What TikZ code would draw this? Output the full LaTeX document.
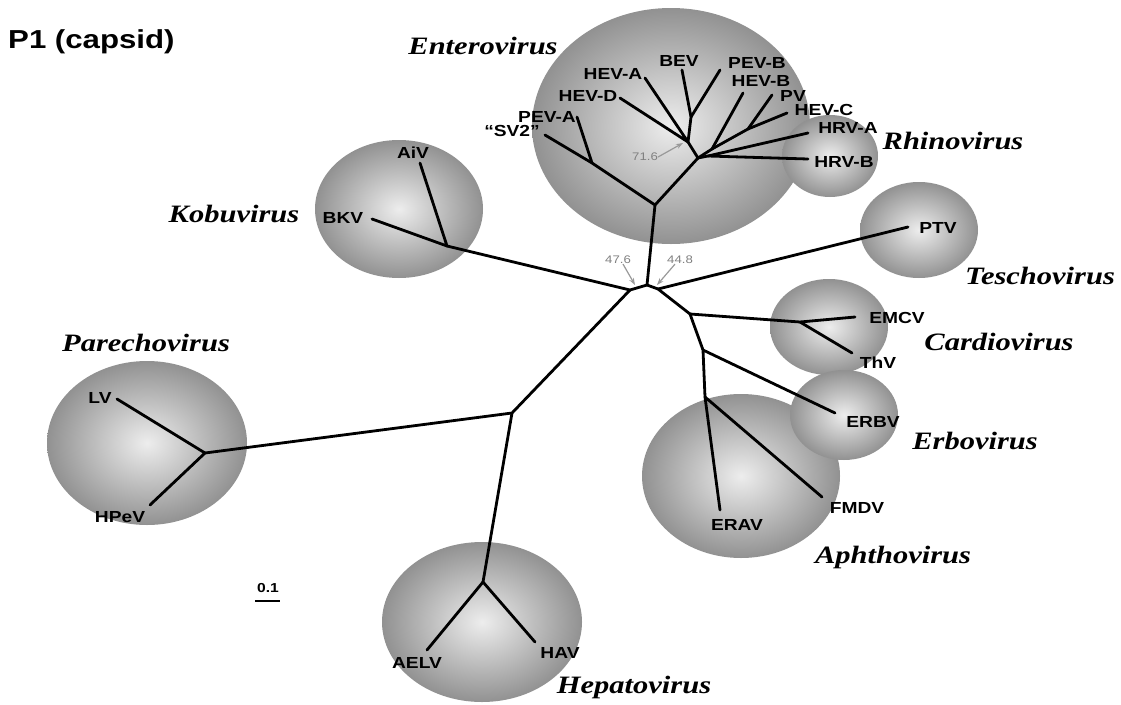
\documentclass[tikz,border=0pt]{standalone}
\usepackage{fontspec}
\usetikzlibrary{arrows.meta}
\newfontfamily\sanslab[FakeStretch=1.2]{Liberation Sans}
\newfontfamily\genuslab[FakeStretch=1.22]{Liberation Serif}
\definecolor{capin}{gray}{0.93}
\definecolor{capout}{gray}{0.57}
\begin{document}
\begin{tikzpicture}[x=1pt,y=-1pt,
    branch/.style={line width=2.8pt,line cap=round,line join=round},
    clade/.style={inner color=capin,outer color=capout},
    leaf/.style={font=\sanslab\bfseries\fontsize{16}{17}\selectfont,inner sep=0pt},
    genus/.style={font=\genuslab\bfseries\itshape\fontsize{25}{27}\selectfont,inner sep=0pt},
    boot/.style={font=\sanslab\fontsize{11}{12}\selectfont,text=gray,inner sep=0pt},
    bootarrow/.style={gray!80,line width=1.2pt,-{Stealth[length=7pt,width=5pt]}}]
    \useasboundingbox (0,0) rectangle (1121,704);

    % clades
    \shade[clade] (671,126) ellipse [x radius=139,y radius=118];
    \shade[clade] (830,156) ellipse [x radius=48,y radius=41];
    \shade[clade] (399,209) ellipse [x radius=84,y radius=69];
    \shade[clade] (919,230) ellipse [x radius=59,y radius=48];
    \shade[clade] (829,327) ellipse [x radius=59,y radius=48];
    \shade[clade] (741,476) ellipse [x radius=99,y radius=82];
    \shade[clade] (844,415) ellipse [x radius=54,y radius=45];
    \shade[clade] (147,443) ellipse [x radius=100,y radius=82];
    \shade[clade] (482,622) ellipse [x radius=100,y radius=80];

    \coordinate (L) at (630,290);
    \coordinate (C) at (647,285);
    \coordinate (D) at (658,289);
    \coordinate (E) at (690,314);
    \coordinate (F) at (703,350);
    \coordinate (K) at (447,246);
    \coordinate (P) at (512,413);
    \coordinate (Pa) at (205,453);
    \coordinate (H) at (483,582);
    \coordinate (Cj) at (800,322);
    \coordinate (Aj) at (705,397);
    \coordinate (N1) at (655,205);
    \coordinate (N2) at (592,163);
    \coordinate (N3) at (698,158);
    \coordinate (N4) at (688,142);
    \coordinate (N5) at (691,117);
    \coordinate (N6) at (712,149);
    \coordinate (N7) at (748,129);
    \coordinate (R) at (708,156);

    \coordinate (tAiV) at (420,163);
    \coordinate (tBKV) at (372,219);
    \coordinate (tLV) at (117,399);
    \coordinate (tHPeV) at (150,505);
    \coordinate (tAELV) at (427,650);
    \coordinate (tHAV) at (535,642);
    \coordinate (tPTV) at (908,227);
    \coordinate (tEMCV) at (855,317);
    \coordinate (tThV) at (852,353);
    \coordinate (tERBV) at (835,413);
    \coordinate (tERAV) at (720,510);
    \coordinate (tFMDV) at (822,497);
    \coordinate (tSV2) at (545,135);
    \coordinate (tPEVA) at (577,117);
    \coordinate (tHEVD) at (620,98);
    \coordinate (tHEVA) at (645,78);
    \coordinate (tBEV) at (682,70);
    \coordinate (tPEVB) at (720,70);
    \coordinate (tHEVB) at (743,93);
    \coordinate (tPV) at (772,95);
    \coordinate (tHEVC) at (787,113);
    \coordinate (tHRVA) at (808,133);
    \coordinate (tHRVB) at (808,159);

    \draw[branch] (Pa) -- (P) -- (L) -- (K);
    \draw[branch] (tLV) -- (Pa) -- (tHPeV);
    \draw[branch] (P) -- (H);
    \draw[branch] (tAELV) -- (H) -- (tHAV);
    \draw[branch] (tAiV) -- (K) -- (tBKV);
    \draw[branch] (L) -- (C) -- (D) -- (E) -- (F) -- (Aj);
    \draw[branch] (D) -- (tPTV);
    \draw[branch] (E) -- (Cj) -- (tEMCV);
    \draw[branch] (Cj) -- (tThV);
    \draw[branch] (F) -- (tERBV);
    \draw[branch] (tERAV) -- (Aj) -- (tFMDV);
    \draw[branch] (C) -- (N1) -- (N2) -- (tSV2);
    \draw[branch] (N2) -- (tPEVA);
    \draw[branch] (N1) -- (N3) -- (N4) -- (N5) -- (tBEV);
    \draw[branch] (N5) -- (tPEVB);
    \draw[branch] (tHEVD) -- (N4) -- (tHEVA);
    \draw[branch] (N3) -- (N6) -- (tHEVB);
    \draw[branch] (N6) -- (N7) -- (tPV);
    \draw[branch] (N7) -- (tHEVC);
    \draw[branch] (N3) -- (R) -- (tHRVA);
    \draw[branch] (R) -- (tHRVB);

    \node[leaf] (lAiV) at (413,153) {AiV};
    \node[leaf] (lBKV) at (343,218) {BKV};
    \node[leaf] (lLV) at (100,398) {LV};
    \node[leaf] (lHPeV) at (120,517) {HPeV};
    \node[leaf] (lAELV) at (417,663) {AELV};
    \node[leaf] (lHAV) at (560,653) {HAV};
    \node[leaf] (lPTV) at (938,228) {PTV};
    \node[leaf] (lEMCV) at (897,318) {EMCV};
    \node[leaf] (lThV) at (878,363) {ThV};
    \node[leaf] (lERBV) at (873,422) {ERBV};
    \node[leaf] (lERAV) at (737,525) {ERAV};
    \node[leaf] (lFMDV) at (857,508) {FMDV};
    \node[leaf] (lSV2) at (512,131) {“SV2”};
    \node[leaf] (lPEVA) at (547,117) {PEV-A};
    \node[leaf] (lHEVD) at (588,96) {HEV-D};
    \node[leaf] (lHEVA) at (613,74) {HEV-A};
    \node[leaf] (lBEV) at (679,61) {BEV};
    \node[leaf] (lPEVB) at (757,63) {PEV-B};
    \node[leaf] (lHEVB) at (761,81) {HEV-B};
    \node[leaf] (lPV) at (793,96) {PV};
    \node[leaf] (lHEVC) at (824,110) {HEV-C};
    \node[leaf] (lHRVA) at (848,128) {HRV-A};
    \node[leaf] (lHRVB) at (844,162) {HRV-B};

    \node[genus] (gEntero) at (483,46) {Enterovirus};
    \node[genus] (gRhino) at (953,141) {Rhinovirus};
    \node[genus] (gKobu) at (234,214) {Kobuvirus};
    \node[genus] (gTescho) at (1040,276) {Teschovirus};
    \node[genus] (gCardio) at (999,342) {Cardiovirus};
    \node[genus] (gErbo) at (975,441) {Erbovirus};
    \node[genus] (gAphtho) at (893,557) {Aphthovirus};
    \node[genus] (gParecho) at (146,343) {Parechovirus};
    \node[genus] (gHepato) at (634,687) {Hepatovirus};

    \node[boot] (b716) at (645,157) {71.6};
    \node[boot] (b476) at (618,260) {47.6};
    \node[boot] (b448) at (680,260) {44.8};
    \coordinate (a716) at (683,143);
    \coordinate (a476) at (635,285);
    \coordinate (a448) at (657,285);
    \draw[bootarrow] (b716.east) -- (a716);
    \draw[bootarrow] ([xshift=5pt]b476.south) -- (a476);
    \draw[bootarrow] ([xshift=-5pt]b448.south) -- (a448);

    \node[font=\sanslab\bfseries\fontsize{13}{14}\selectfont,inner sep=0pt] (scale) at (268,588) {0.1};
    \coordinate (sb1) at (255,601);
    \coordinate (sb2) at (280,601);
    \draw[line width=2pt] (sb1) -- (sb2);

    \node[anchor=west,font=\sanslab\bfseries\fontsize{26}{28}\selectfont,inner sep=0pt] (title) at (8,42) {P1 (capsid)};
\end{tikzpicture}
\end{document}
